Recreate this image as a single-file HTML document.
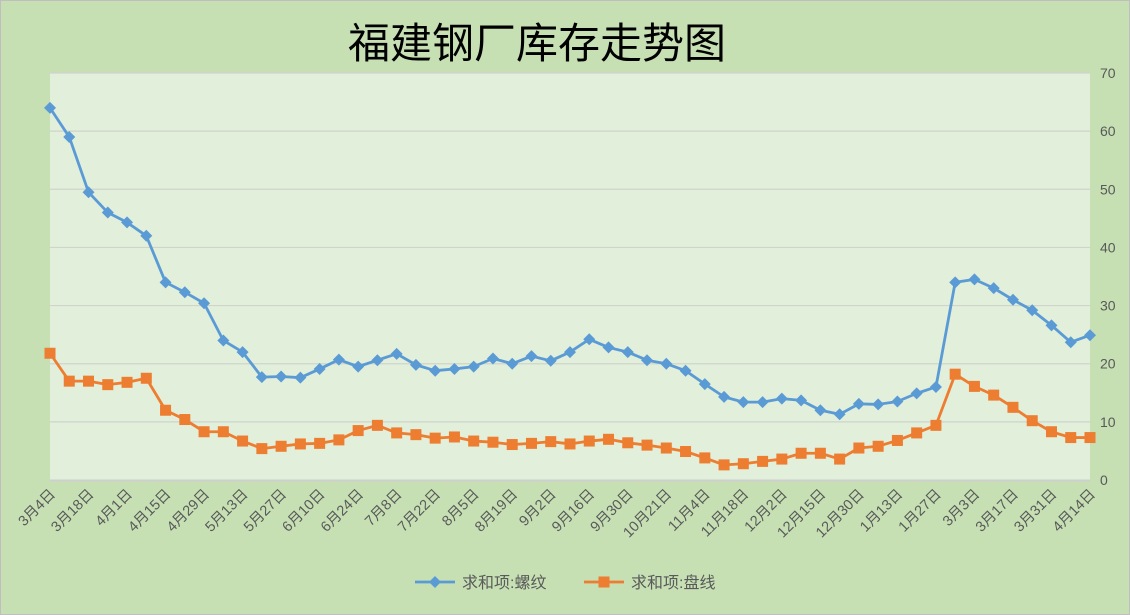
<!DOCTYPE html>
<html><head><meta charset="utf-8"><style>
html,body{margin:0;padding:0;background:#c6e0b4;}
svg{display:block;font-family:"Liberation Sans","Noto Sans CJK SC",sans-serif;}
</style></head><body>
<svg id="c" width="1130" height="615" xmlns="http://www.w3.org/2000/svg">
<rect x="0.5" y="0.5" width="1129" height="614" fill="#c6e0b4" stroke="#bfbfbf"/>
<rect x="50" y="73" width="1040" height="407" fill="#e2efda"/>
<text x="537" y="58" font-size="42" text-anchor="middle" fill="#000">福建钢厂库存走势图</text>
<g id="g"></g>
</svg>
<script>
const B=[64,59,49.5,46,44.3,42,34,32.3,30.4,24,22,17.7,17.8,17.6,19.1,20.7,19.5,20.6,21.7,19.8,18.8,19.1,19.5,20.9,20,21.3,20.5,22,24.2,22.8,22,20.6,20,18.8,16.5,14.3,13.4,13.4,14,13.7,12,11.3,13.1,13,13.5,14.9,16,34,34.5,33,31,29.2,26.6,23.7,24.9];
const O=[21.8,17,17,16.4,16.8,17.5,12,10.4,8.3,8.3,6.7,5.4,5.8,6.2,6.3,6.9,8.5,9.4,8.1,7.8,7.2,7.4,6.7,6.5,6.1,6.3,6.6,6.2,6.7,7,6.4,6,5.5,4.9,3.8,2.6,2.8,3.2,3.6,4.6,4.6,3.6,5.5,5.8,6.8,8.1,9.4,18.2,16.1,14.6,12.5,10.2,8.3,7.3,7.3];
const L=["3月4日","3月18日","4月1日","4月15日","4月29日","5月13日","5月27日","6月10日","6月24日","7月8日","7月22日","8月5日","8月19日","9月2日","9月16日","9月30日","10月21日","11月4日","11月18日","12月2日","12月15日","12月30日","1月13日","1月27日","3月3日","3月17日","3月31日","4月14日"];
const X=i=>50+i*1040/54, Y=v=>480-v*407/70;
let s="";
for(let v=0;v<=70;v+=10){const y=Y(v);if(v>0)s+=`<line x1="50" x2="1090" y1="${y}" y2="${y}" stroke="#cfd4cc" stroke-width="1.2"/>`;s+=`<text x="1100" y="${y+5}" font-size="14" fill="#595959">${v}</text>`;}
s+=`<line x1="50" x2="1090" y1="480.5" y2="480.5" stroke="#cfcfcf" stroke-width="2"/>`;
L.forEach((t,k)=>{const x=X(k*2)+6;s+=`<text transform="translate(${x},495) rotate(-45)" font-size="14.5" fill="#595959" text-anchor="end">${t}</text>`;});
const pl=(d,c)=>`<polyline fill="none" stroke="${c}" stroke-width="2.8" stroke-linejoin="round" points="${d.map((v,i)=>X(i)+','+Y(v)).join(' ')}"/>`;
s+=pl(B,"#5b9bd5")+pl(O,"#ed7d31");
B.forEach((v,i)=>{const x=X(i),y=Y(v);s+=`<polygon points="${x},${y-6} ${x+6},${y} ${x},${y+6} ${x-6},${y}" fill="#5b9bd5"/>`;});
O.forEach((v,i)=>{const x=X(i),y=Y(v);s+=`<rect x="${x-5.5}" y="${y-5.5}" width="11" height="11" fill="#ed7d31"/>`;});
s+=`<line x1="415" x2="455" y1="582" y2="582" stroke="#5b9bd5" stroke-width="2.8"/><polygon points="435,576 441,582 435,588 429,582" fill="#5b9bd5"/><text x="462" y="588" font-size="16" fill="#595959">求和项:螺纹</text>`;
s+=`<line x1="584" x2="624" y1="582" y2="582" stroke="#ed7d31" stroke-width="2.8"/><rect x="598.5" y="576.5" width="11" height="11" fill="#ed7d31"/><text x="631" y="588" font-size="16" fill="#595959">求和项:盘线</text>`;
document.getElementById("g").innerHTML=s;
</script>
</body></html>
